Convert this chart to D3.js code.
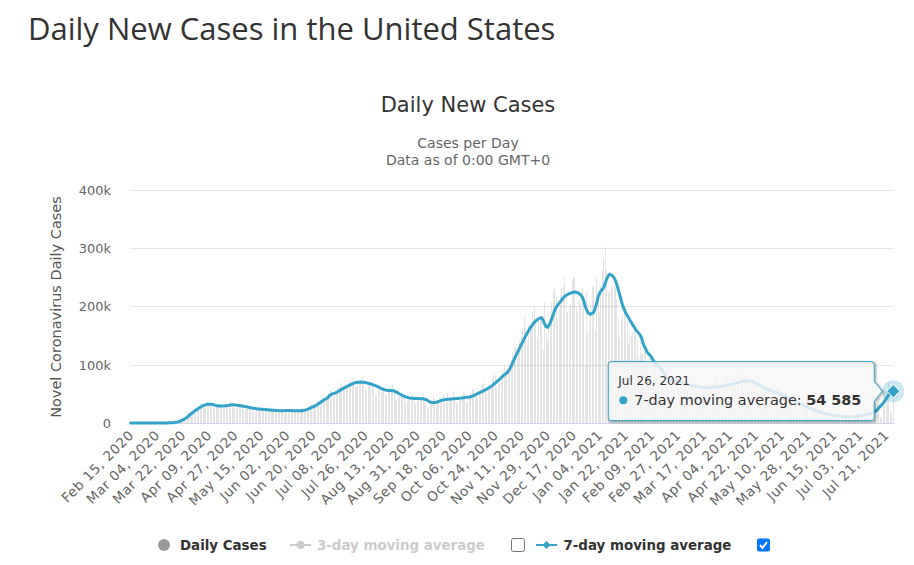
<!DOCTYPE html>
<html><head><meta charset="utf-8">
<script src="https://cdn.jsdelivr.net/npm/d3@7"></script>
<style>
html,body{margin:0;padding:0;background:#fff;}
svg{display:block;}
</style></head><body>
<svg id="chart" width="914" height="565"></svg>
<script>
// ---------------- DATA ----------------
const pageTitle = "Daily New Cases in the United States";
const chartTitle = "Daily New Cases";
const subtitleLines = ["Cases per Day", "Data as of 0:00 GMT+0"];
const yAxisTitle = "Novel Coronavirus Daily Cases";
const firstDay = [2020, 1, 15];   // Feb 15, 2020
const lastDay = [2021, 6, 26];    // Jul 26, 2021
const yTicks = [0, 100, 200, 300, 400]; // thousands
const tickLabels = ["Feb 15, 2020","Mar 04, 2020","Mar 22, 2020","Apr 09, 2020","Apr 27, 2020","May 15, 2020",
  "Jun 02, 2020","Jun 20, 2020","Jul 08, 2020","Jul 26, 2020","Aug 13, 2020","Aug 31, 2020","Sep 18, 2020",
  "Oct 06, 2020","Oct 24, 2020","Nov 11, 2020","Nov 29, 2020","Dec 17, 2020","Jan 04, 2021","Jan 22, 2021",
  "Feb 09, 2021","Feb 27, 2021","Mar 17, 2021","Apr 04, 2021","Apr 22, 2021","May 10, 2021","May 28, 2021",
  "Jun 15, 2021","Jul 03, 2021","Jul 21, 2021"];
const legendItems = ["Daily Cases", "3-day moving average", "7-day moving average"];
const tooltipDate = "Jul 26, 2021";
const tooltipLabel = "7-day moving average: ";
const tooltipValue = "54 585";

// Daily new cases (thousands), Feb 15 2020 .. Jul 26 2021
const dailyCases = [
  // Feb 2020 (15-29)
  0,0,0,0,0,0,0,0,0,0,0,0,0,0,0,
  // Mar 2020
  0,0,0,0.1,0.1,0.1,0.1,0.1,0.2,0.3,0.4,0.5,0.6,0.7,0.9,1.2,1.8,2.6,4.5,5.9,7,8,10.7,10.2,12.8,18,19,20,19.4,22,26,
  // Apr 2020
  26.5,29,32,34,25,30,31,33,35,33,29,27,25,27,30,32,32,29,26,28,27,29,32,38,33,27,24,25,28,30,
  // May 2020
  33,29,25,23,24,25,29,28,25,20,19,22,21,27,25,24,19,22,21,21,28,24,22,19,18,19,20,23,25,24,20,
  // Jun 2020
  21,21,20,22,25,22,18,18,19,21,23,25,25,19,20,24,27,29,33,32,27,33,37,39,40,46,43,42,41,47,
  // Jul 2020
  52,57,57,46,45,51,60,62,64,71,63,59,63,67,69,75,77,67,63,62,66,72,74,78,69,56,59,66,70,70,69,
  // Aug 2020
  59,48,48,57,55,59,62,56,49,50,55,55,53,66,56,41,39,44,47,46,50,45,35,38,39,45,46,50,44,35,37,
  // Sep 2020
  42,40,45,51,42,31,25,28,35,38,48,41,35,36,39,40,45,49,43,36,52,39,39,45,55,45,35,34,44,40,
  // Oct 2020
  46,55,50,36,38,44,51,58,58,51,47,43,52,58,66,70,57,50,61,63,63,76,84,81,61,69,76,82,91,100,85,
  // Nov 2020
  80,91,92,108,122,132,129,111,126,143,148,163,184,164,139,168,164,172,191,199,178,145,175,180,184,125,205,155,140,162,
  // Dec 2020
  180,205,225,232,215,180,195,220,230,234,250,220,190,200,205,245,248,250,200,190,210,205,230,205,98,225,155,175,203,233,235,
  // Jan 2021
  160,250,210,190,235,262,280,302,262,225,225,230,235,235,245,210,178,145,175,185,195,195,175,135,153,149,158,170,167,142,111,
  // Feb 2021
  137,115,120,124,134,105,88,90,95,95,103,100,85,63,54,62,70,69,81,71,56,56,72,74,77,78,63,51,
  // Mar 2021
  62,60,68,70,70,62,44,56,62,64,68,68,54,40,60,60,64,70,66,48,38,58,58,66,72,78,60,42,69,62,68,
  // Apr 2021
  77,82,61,36,66,64,74,80,92,66,48,75,80,80,82,86,58,42,72,68,70,72,68,46,34,62,56,62,64,60,
  // May 2021
  42,30,58,50,55,60,57,36,24,52,44,47,52,45,26,18,40,36,40,38,36,20,14,30,30,32,30,28,12,8,9,
  // Jun 2021
  18,22,20,24,10,6,15,14,16,17,17,6,5,13,12,14,16,14,6,3,11,11,14,13,15,5,4,14,14,16,
  // Jul 2021 (1-26)
  17,22,5,3,4,22,25,28,26,9,6,34,29,34,35,45,11,8,52,48,55,56,70,20,16,68
];

// 7-day moving average (thousands)
const movingAvg7 = [
  // Feb 2020 (15-29)
  0,0,0,0,0,0,0,0,0,0,0,0,0,0,0,
  // Mar 2020
  0,0,0,0,0.1,0.1,0.1,0.1,0.1,0.2,0.2,0.3,0.4,0.5,0.6,0.8,1.1,1.5,2.2,3.1,4.1,5.3,6.7,8.2,9.9,12,14.3,16.3,18.3,20.1,22,
  // Apr 2020
  23.6,25.2,26.8,28.3,29.6,30.6,31.4,32,32.3,32.3,32,31.4,30.7,30,29.5,29.3,29.2,29.2,29.3,29.4,29.6,29.8,30.2,30.8,31.3,31.2,30.9,30.6,30.2,29.9,
  // May 2020
  29.6,29.2,28.8,28.3,27.9,27.4,26.8,26.2,25.6,25.1,24.7,24.3,24,23.8,23.6,23.4,23.2,23,22.8,22.6,22.4,22.2,22,21.8,21.6,21.4,21.2,21.1,21,21.1,21.2,
  // Jun 2020
  21.3,21.4,21.4,21.3,21.2,21.1,21,20.9,20.8,20.8,20.9,21.1,21.5,21.9,22.5,23.3,24.3,25.4,26.6,27.8,28.8,30.1,31.6,33.3,35,36.8,38.6,40.2,41.5,42.8,
  // Jul 2020
  46,48,49.5,50.3,51,52.2,53.6,55,56.5,58,59.3,60.6,62,63.2,64.4,65.8,67,68.1,68.8,69.3,69.7,70,70.1,70,69.8,69.4,68.8,68.2,67.5,66.8,66,
  // Aug 2020
  65,64,63,61.8,60.6,59.4,58.3,57.3,56.6,56,55.7,55.6,55.5,55.3,54.8,53.8,52.5,51,49.6,48.3,47,45.8,44.8,44,43.3,42.8,42.5,42.3,42.1,42,41.9,
  // Sep 2020
  41.8,41.7,41.6,41.4,41,40.2,38.8,37.2,36,35.3,35,35,35.4,36.2,37.2,38.2,39,39.6,40,40.3,40.6,40.8,41,41.2,41.4,41.6,41.8,42,42.3,42.6,
  // Oct 2020
  43,43.4,43.8,44.1,44.3,44.5,45,45.9,47,48.2,49.4,50.6,51.9,53.1,54.3,55.5,56.8,58,59.5,61,62.7,64.5,66.5,68.6,70.8,73,75.2,77.5,79.8,82,84,
  // Nov 2020
  86,89,93,98,103.5,109,114.5,119.5,124.5,129.5,134.5,139.5,144.5,149.5,154,158.5,162.5,166,169.5,172.5,175,177,178.5,180,180.5,176,170,165,164,167,
  // Dec 2020
  172,179,186,193,198,202,205,208,211.5,214.5,217,219,220.5,221.5,222.5,223.5,224,224.5,224,223,221.5,219.5,216,210,201,194,189,187,186.5,188,190,
  // Jan 2021
  197,205,216,222,226,229,233,240,247,252,255,254,252,249,244,237,228,219,210,201,195,189,185,181,176,172,168,164,160,157,154,
  // Feb 2021
  151,146,137,131,126,121,118,116,112,108,104,101,98,96,94,91,88,84,80,77.5,76,75,74,73.5,73,72.5,72,71.5,
  // Mar 2021
  71,70,69,68,67,66,65,64.5,64,63.5,63,62.5,62,61.5,61,61,61,61,61,61,61,61,61.5,61.5,61.5,62,62,62,62.5,63,63.5,
  // Apr 2021
  64,64.5,65,65.5,66,66.5,67,67.8,68.5,69.3,70,70.8,71.5,72,72.5,72.6,72.4,72,71.3,70.5,69.5,68.3,67,65.5,64,62.5,61,59.5,58.5,57.5,
  // May 2021
  56.5,55.6,54.7,53.8,53,52.2,51.4,50.6,50,48.8,47.6,46.4,45,43.8,42.5,41.2,40,38.8,37.4,36,34.8,33.7,32.6,31.5,30.4,29.2,28,27,26,25,24,
  // Jun 2021
  23,22,21,20,19,18.2,17.5,16.8,16.2,15.6,15,14.5,14,13.5,13,12.8,12.6,12.4,12.2,12,11.6,11.3,11.1,10.9,10.8,10.7,10.7,10.8,11,11.3,
  // Jul 2021 (1-26)
  11.7,12.2,12.7,13,13.3,13.6,14,14.8,15.5,16.2,17,18,19.5,21,22.5,26,28.5,31,34,37.5,41.5,45,48.5,51,53,54.585
];

// ---------------- CHART ----------------
const FONT = "'DejaVu Sans', Verdana, sans-serif";
const lineColor = "#33a3c9";
const svg = d3.select("#chart");

const days = d3.utcDay.range(Date.UTC(...firstDay), d3.utcDay.offset(new Date(Date.UTC(...lastDay)), 1));
const fmt = d3.utcFormat("%b %d, %Y");
const categories = days.map(fmt);

const plot = {left: 130, right: 894, top: 189.5, bottom: 423};
const x = d3.scaleBand().domain(d3.range(categories.length)).range([plot.left, plot.right]);
const cx = i => x(i) + x.bandwidth() / 2;
const y = d3.scaleLinear().domain([0, 400]).range([plot.bottom, plot.top]);

// Page title
svg.append("text").attr("x", 28).attr("y", 40)
  .attr("font-family", "'Open Sans', sans-serif").attr("font-size", 31)
  .attr("fill", "#333").text(pageTitle);

// Chart title & subtitle
svg.append("text").attr("x", 468).attr("y", 112).attr("text-anchor", "middle")
  .attr("font-family", FONT).attr("font-size", 21).attr("fill", "#333").text(chartTitle);
svg.selectAll("text.sub").data(subtitleLines).join("text").attr("class", "sub")
  .attr("x", 468).attr("y", (d, i) => 148 + i * 17).attr("text-anchor", "middle")
  .attr("font-family", FONT).attr("font-size", 14).attr("fill", "#666").text(d => d);

// Grid
const yAxis = d3.axisLeft(y).tickValues(yTicks).tickSize(-(plot.right - plot.left))
  .tickFormat(d => d === 0 ? "0" : d + "k").tickPadding(19);
const gy = svg.append("g").attr("transform", `translate(${plot.left},0)`).call(yAxis);
gy.select(".domain").remove();
gy.selectAll(".tick line").attr("stroke", "#e6e6e6").attr("shape-rendering", "crispEdges");
gy.selectAll(".tick text").attr("font-family", FONT).attr("font-size", 13).attr("fill", "#666").attr("dy", "0.36em");

// Y axis title
svg.append("text").attr("transform", "translate(61,307) rotate(-90)").attr("text-anchor", "middle")
  .attr("font-family", FONT).attr("font-size", 14.5).attr("fill", "#555").text(yAxisTitle);

// Bars (inactive state)
svg.append("g").selectAll("rect").data(dailyCases).join("rect")
  .attr("x", (d, i) => Math.round(cx(i) - 0.5)).attr("width", 1)
  .attr("y", d => y(d)).attr("height", d => plot.bottom - y(d))
  .attr("fill", "#999").attr("fill-opacity", 0.25).attr("shape-rendering", "crispEdges");

// X axis line
svg.append("line").attr("x1", plot.left).attr("x2", plot.right).attr("y1", plot.bottom + 0.5).attr("y2", plot.bottom + 0.5)
  .attr("stroke", "#ccd6eb");

// X tick labels
const xAxis = d3.axisBottom(x).tickValues(tickLabels.map(l => categories.indexOf(l)))
  .tickFormat(i => categories[i]).tickSize(0).tickPadding(0);
const gx = svg.append("g").attr("transform", `translate(0,${plot.bottom})`).call(xAxis);
gx.select(".domain").remove();
gx.selectAll(".tick text").attr("font-family", FONT).attr("font-size", 13.5).attr("fill", "#666")
  .attr("letter-spacing", 0.6).attr("text-anchor", "end").attr("dy", null)
  .attr("transform", "translate(4,13) rotate(-45)");

// 7-day line
const line = d3.line().x((d, i) => cx(i)).y(d => y(d));
svg.append("path").datum(movingAvg7).attr("d", line).attr("fill", "none")
  .attr("stroke", lineColor).attr("stroke-width", 3).attr("stroke-linejoin", "round").attr("stroke-linecap", "round");

// Hover marker on last point
const li = movingAvg7.length - 1;
const mx = cx(li), my = y(movingAvg7[li]);
svg.append("circle").attr("cx", mx).attr("cy", my).attr("r", 11).attr("fill", lineColor).attr("fill-opacity", 0.25);
svg.append("path").attr("d", d3.symbol(d3.symbolDiamond2, 110)()).attr("transform", `translate(${mx},${my})`)
  .attr("fill", lineColor).attr("stroke", "#fff").attr("stroke-width", 1);

// Tooltip
const tw = 266, th = 59;
const tx1 = mx - 19, tx0 = tx1 - tw, ty0 = my - 29.5, ty1 = ty0 + th;
const r = 3;
const tipPath = `M${tx0 + r},${ty0} L${tx1 - r},${ty0} Q${tx1},${ty0} ${tx1},${ty0 + r} L${tx1},${my - 10} L${mx - 11},${my} L${tx1},${my + 10} L${tx1},${ty1 - r} Q${tx1},${ty1} ${tx1 - r},${ty1} L${tx0 + r},${ty1} Q${tx0},${ty1} ${tx0},${ty1 - r} L${tx0},${ty0 + r} Q${tx0},${ty0} ${tx0 + r},${ty0} Z`;
const tip = svg.append("g");
[[5, 0.05], [3, 0.1], [1, 0.15]].forEach(([w, o]) => {
  tip.append("path").attr("d", tipPath).attr("transform", "translate(1,1)").attr("fill", "none")
    .attr("stroke", "#000").attr("stroke-opacity", o).attr("stroke-width", w);
});
tip.append("path").attr("d", tipPath).attr("fill", "rgba(247,247,247,0.85)").attr("stroke", lineColor).attr("stroke-width", 1);
tip.append("text").attr("x", tx0 + 10).attr("y", ty0 + 23.5).attr("font-family", FONT).attr("font-size", 12)
  .attr("fill", "#333").text(tooltipDate);
tip.append("circle").attr("cx", tx0 + 15).attr("cy", ty0 + 38.5).attr("r", 4).attr("fill", lineColor);
const tt = tip.append("text").attr("x", tx0 + 26).attr("y", ty0 + 43).attr("font-family", FONT).attr("font-size", 14.4).attr("fill", "#333");
tt.append("tspan").text(tooltipLabel);
tt.append("tspan").attr("font-weight", "bold").text(tooltipValue);

// Legend
const ly = 545;
const lg = svg.append("g").attr("font-family", FONT).attr("font-size", 13.4).attr("font-weight", "bold");
lg.append("circle").attr("cx", 164).attr("cy", ly).attr("r", 6).attr("fill", "#999");
lg.append("text").attr("x", 180).attr("y", ly + 5).attr("fill", "#333").text(legendItems[0]);
lg.append("line").attr("x1", 290).attr("x2", 311).attr("y1", ly).attr("y2", ly).attr("stroke", "#ccc").attr("stroke-width", 2);
lg.append("circle").attr("cx", 300.5).attr("cy", ly).attr("r", 4).attr("fill", "#ccc");
lg.append("text").attr("x", 317).attr("y", ly + 5).attr("fill", "#ccc").text(legendItems[1]);
lg.append("rect").attr("x", 511.5).attr("y", ly - 6.5).attr("width", 13).attr("height", 13).attr("rx", 2)
  .attr("fill", "#fff").attr("stroke", "#767676");
lg.append("line").attr("x1", 536).attr("x2", 557).attr("y1", ly).attr("y2", ly).attr("stroke", lineColor).attr("stroke-width", 2);
lg.append("path").attr("d", d3.symbol(d3.symbolDiamond2, 40)()).attr("transform", `translate(546.5,${ly})`).attr("fill", lineColor);
lg.append("text").attr("x", 563.5).attr("y", ly + 5).attr("fill", "#333").text(legendItems[2]);
lg.append("rect").attr("x", 757).attr("y", ly - 6.5).attr("width", 13).attr("height", 13).attr("rx", 2).attr("fill", "#0075ff");
lg.append("path").attr("d", `M760,${ly} L762.5,${ly + 3} L767,${ly - 3}`).attr("fill", "none")
  .attr("stroke", "#fff").attr("stroke-width", 2);
</script>
</body></html>
